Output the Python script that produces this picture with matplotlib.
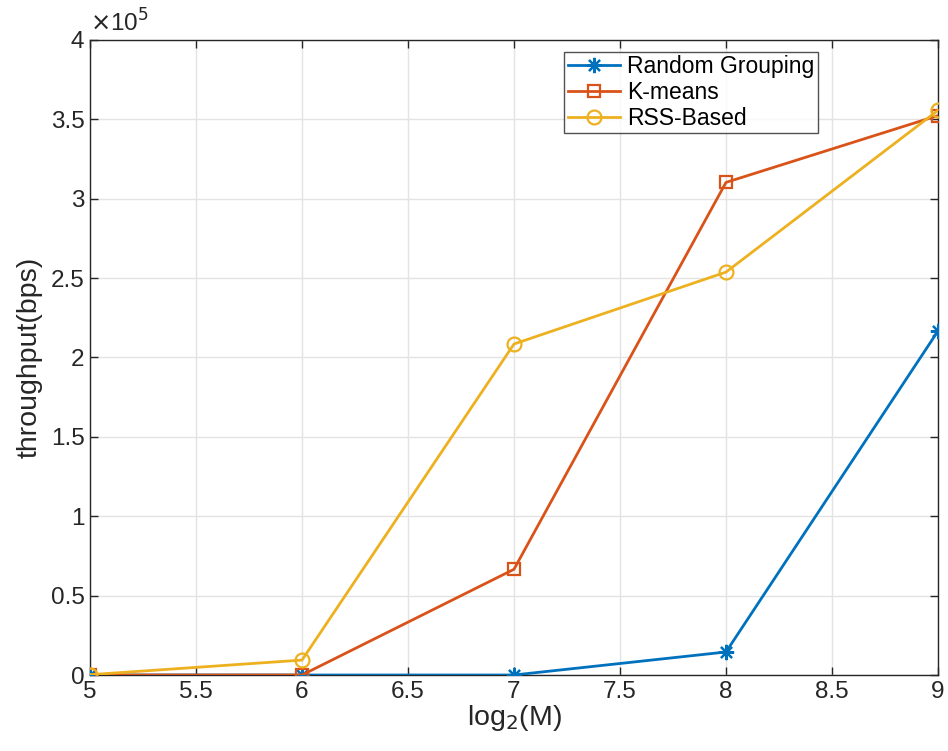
import matplotlib
matplotlib.use("Agg")
import matplotlib.pyplot as plt

plt.rcParams['font.family'] = ['Liberation Sans', 'DejaVu Sans']

x = [5, 6, 7, 8, 9]
random_grouping = [0.0, 0.0, 0.0, 0.145e5, 2.167e5]
kmeans = [0.0, 0.0, 0.666e5, 3.103e5, 3.524e5]
rss_based = [0.002e5, 0.094e5, 2.085e5, 2.538e5, 3.557e5]

xticks = [5, 5.5, 6, 6.5, 7, 7.5, 8, 8.5, 9]
yticks = [0, 0.5, 1, 1.5, 2, 2.5, 3, 3.5, 4]
ytick_labels = ['0', '0.5', '1', '1.5', '2', '2.5', '3', '3.5', '4']

fig = plt.figure(figsize=(9.48, 7.51), dpi=100)
ax = fig.add_axes([90/948, 76/751, 848/948, 635/751])

c1, c2, c3 = '#0072BD', '#D95319', '#EDB120'
asterisk = (8, 2, 0)
ax.plot(x, random_grouping, color=c1, lw=2, marker=asterisk, ms=11, mew=1.6, label='Random Grouping', zorder=3)
ax.plot(x, kmeans, color=c2, lw=2, marker='s', ms=9, mfc='none', mew=1.6, label='K-means', zorder=3)
ax.plot(x, rss_based, color=c3, lw=2, marker='o', ms=10, mfc='none', mew=1.6, label='RSS-Based', zorder=3)

ax.set_xlim(5, 9)
ax.set_ylim(0, 4e5)
ax.set_xticks(xticks)
ax.set_xticklabels([('%g' % t) for t in xticks])
ax.set_yticks([t * 1e5 for t in yticks])
ax.set_yticklabels(ytick_labels)
ax.tick_params(direction='in', length=6, width=1, colors='#262626', labelsize=17.5,
               top=True, right=True, pad=4)
for s in ax.spines.values():
    s.set_color('#262626')
    s.set_linewidth(1)
ax.grid(True, color='#e3e3e3', lw=1)
ax.set_axisbelow(True)

ax.set_xlabel(r'log$_2$(M)', fontsize=20.5, color='#262626', labelpad=0)
ax.set_ylabel('throughput(bps)', fontsize=20.5, color='#262626', labelpad=6)
ax.text(0.0, 1.006, r'$\times$10$^5$', transform=ax.transAxes, fontsize=17.5, color='#262626',
        ha='left', va='bottom')

leg = ax.legend(loc='upper right', fontsize=16.5, frameon=True, fancybox=False,
                edgecolor='#262626', borderpad=0.15, labelspacing=0.12, handlelength=2.3,
                handletextpad=0.3, borderaxespad=0)
leg.get_frame().set_linewidth(1)
leg.set_bbox_to_anchor((818/948, 1 - 52/751), transform=fig.transFigure)

fig.savefig('out.png', dpi=100)
